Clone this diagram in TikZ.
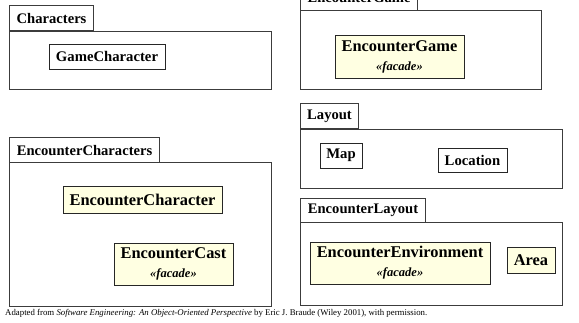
\documentclass[tikz,border=0pt]{standalone}
\usepackage{fontspec}
\setmainfont{Liberation Serif}
\definecolor{noteyellow}{RGB}{255,255,226}
\definecolor{edge}{RGB}{60,60,60}
\tikzset{
  x=1pt, y=-1pt,
  pkgtab/.style={draw=edge, line width=1.1pt, fill=white, anchor=north west,
    inner sep=0pt, font=\fontsize{14.6}{16}\selectfont\bfseries},
  pkgbody/.style={draw=edge, line width=1.1pt, anchor=north west, inner sep=0pt},
  plainclass/.style={draw=black!85, line width=0.9pt, fill=white, inner sep=0pt,
    font=\fontsize{14.7}{16}\selectfont\bfseries},
  facadeclass/.style={draw=black!85, line width=0.9pt, fill=noteyellow, inner sep=0pt,
    align=center, font=\fontsize{16.4}{18}\selectfont\bfseries},
}
\newcommand{\facadetag}{\\[1pt]{\fontsize{12.5}{14}\selectfont\itshape\guillemotleft facade\guillemotright}}
\begin{document}
\begin{tikzpicture}
\clip (0,0) rectangle (579,322);
\fill[white] (0,0) rectangle (579,322);

% Characters package
\node[pkgbody, minimum width=262, minimum height=58] (charsBody) at (9,31) {};
\node[pkgtab, minimum width=84, minimum height=25] (charsTab) at (9,5) {Characters};
\node[plainclass, minimum width=116, minimum height=25] (gameChar) at (107,56.5) {GameCharacter};

% EncounterGame package
\node[pkgbody, minimum width=241, minimum height=79] (gameBody) at (300,10) {};
\node[pkgtab, minimum width=117, minimum height=25] (gameTab) at (300,-15) {EncounterGame};
\node[facadeclass, minimum width=129, minimum height=43] (encGame) at (399.5,56.5) {EncounterGame\facadetag};

% Layout package
\node[pkgbody, minimum width=262, minimum height=59] (layoutBody) at (300,129) {};
\node[pkgtab, minimum width=58, minimum height=25] (layoutTab) at (300,103) {Layout};
\node[plainclass, minimum width=42, minimum height=25] (map) at (341,155.5) {Map};
\node[plainclass, minimum width=69, minimum height=24] (location) at (472.5,160) {Location};

% EncounterLayout package
\node[pkgbody, minimum width=262, minimum height=83] (encLayoutBody) at (300,222) {};
\node[pkgtab, minimum width=125, minimum height=24] (encLayoutTab) at (300,198) {EncounterLayout};
\node[facadeclass, minimum width=180, minimum height=42] (encEnv) at (400,263) {EncounterEnvironment\facadetag};
\node[facadeclass, minimum width=48, minimum height=26] (area) at (531,260) {Area};

% EncounterCharacters package
\node[pkgbody, minimum width=262, minimum height=144] (encCharsBody) at (9,162) {};
\node[pkgtab, minimum width=150, minimum height=25] (encCharsTab) at (9,137) {EncounterCharacters};
\node[facadeclass, minimum width=159, minimum height=27] (encChar) at (142.5,199.5) {EncounterCharacter};
\node[facadeclass, minimum width=119, minimum height=42] (encCast) at (173.5,264) {EncounterCast\facadetag};

% source note
\node[anchor=west, inner sep=0pt, font=\fontsize{8.8}{10}\selectfont] (source) at (5,313.5)
  {Adapted from \textit{Software Engineering: An Object-Oriented Perspective} by Eric J. Braude (Wiley 2001), with permission.};
\end{tikzpicture}
\end{document}
